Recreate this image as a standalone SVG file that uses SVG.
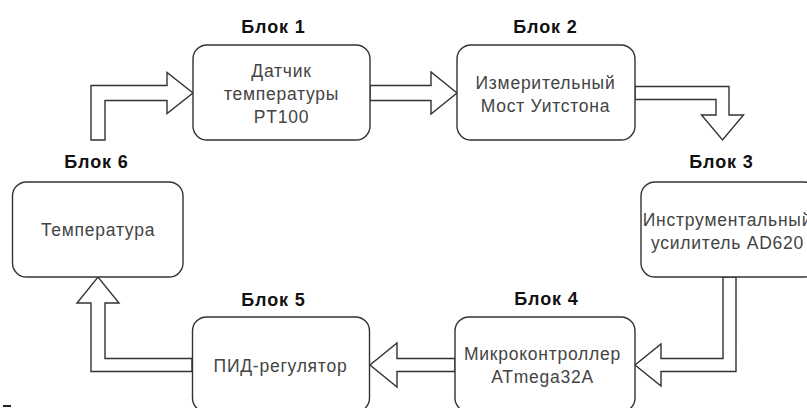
<svg xmlns="http://www.w3.org/2000/svg" width="807" height="408" viewBox="0 0 807 408">
<style>
.box{fill:#fff;stroke:#333;stroke-width:1.4}
.arr{fill:#fff;stroke:#333;stroke-width:1.4;stroke-linejoin:miter}
.t{font-family:"Liberation Sans",Arial,sans-serif;font-size:17.5px;letter-spacing:0.75px;fill:#444;text-anchor:middle}
.lbl{font-family:"Liberation Sans",Arial,sans-serif;font-size:18px;letter-spacing:0.9px;font-weight:bold;fill:#111;text-anchor:middle}
</style>
<rect width="807" height="408" fill="#fff"/>
<g id="connectors">
<polygon class="arr" points="91,140 91,85.5 167,85.5 167,72.5 193,93 167,113.5 167,100.5 105,100.5 105,140"/>
<polygon class="arr" points="370,85.5 431,85.5 431,72 457,93 431,114 431,100.5 370,100.5"/>
<polygon class="arr" points="635,86.5 729,86.5 729,115 743.5,115 722.5,140 701.5,115 716,115 716,99.5 635,99.5"/>
<polygon class="arr" points="723,277 736,277 736,371.5 661,371.5 661,386 635,365 661,344 661,358.5 723,358.5"/>
<polygon class="arr" points="455,358.5 397,358.5 397,343 370,365 397,387 397,371.5 455,371.5"/>
<polygon class="arr" points="192,358.5 105,358.5 105,303 119,303 98,277 77,303 91,303 91,371.5 192,371.5"/>
</g>
<g id="block1">
<rect class="box" x="193" y="45" width="177" height="95" rx="14"/>
<text class="lbl" x="273.5" y="33">Блок 1</text>
<text class="t" x="281.5" y="77">Датчик</text>
<text class="t" x="281.5" y="100">температуры</text>
<text class="t" x="281.5" y="123">PT100</text>
</g>
<g id="block2">
<rect class="box" x="457" y="45" width="178" height="95" rx="14"/>
<text class="lbl" x="545.5" y="33">Блок 2</text>
<text class="t" x="545.5" y="88.5">Измерительный</text>
<text class="t" x="545.5" y="111.5">Мост Уитстона</text>
</g>
<g id="block3">
<rect class="box" x="641" y="182" width="177" height="95" rx="14"/>
<text class="lbl" x="721.5" y="168">Блок 3</text>
<text class="t" x="727.5" y="225.5">Инструментальный</text>
<text class="t" x="727.5" y="249">усилитель AD620</text>
</g>
<g id="block4">
<rect class="box" x="455" y="317" width="180" height="95" rx="14"/>
<text class="lbl" x="546.5" y="305">Блок 4</text>
<text class="t" x="542.5" y="359.5">Микроконтроллер</text>
<text class="t" x="542.5" y="382.5">ATmega32A</text>
</g>
<g id="block5">
<rect class="box" x="192.5" y="317" width="177" height="95" rx="14"/>
<text class="lbl" x="273.5" y="306">Блок 5</text>
<text class="t" x="280.5" y="371.5">ПИД-регулятор</text>
</g>
<g id="block6">
<rect class="box" x="12.5" y="182" width="170.5" height="95" rx="14"/>
<text class="lbl" x="96.5" y="168">Блок 6</text>
<text class="t" x="98" y="236">Температура</text>
</g>
<line x1="3" y1="406" x2="11" y2="406" stroke="#222" stroke-width="2"/>
</svg>
